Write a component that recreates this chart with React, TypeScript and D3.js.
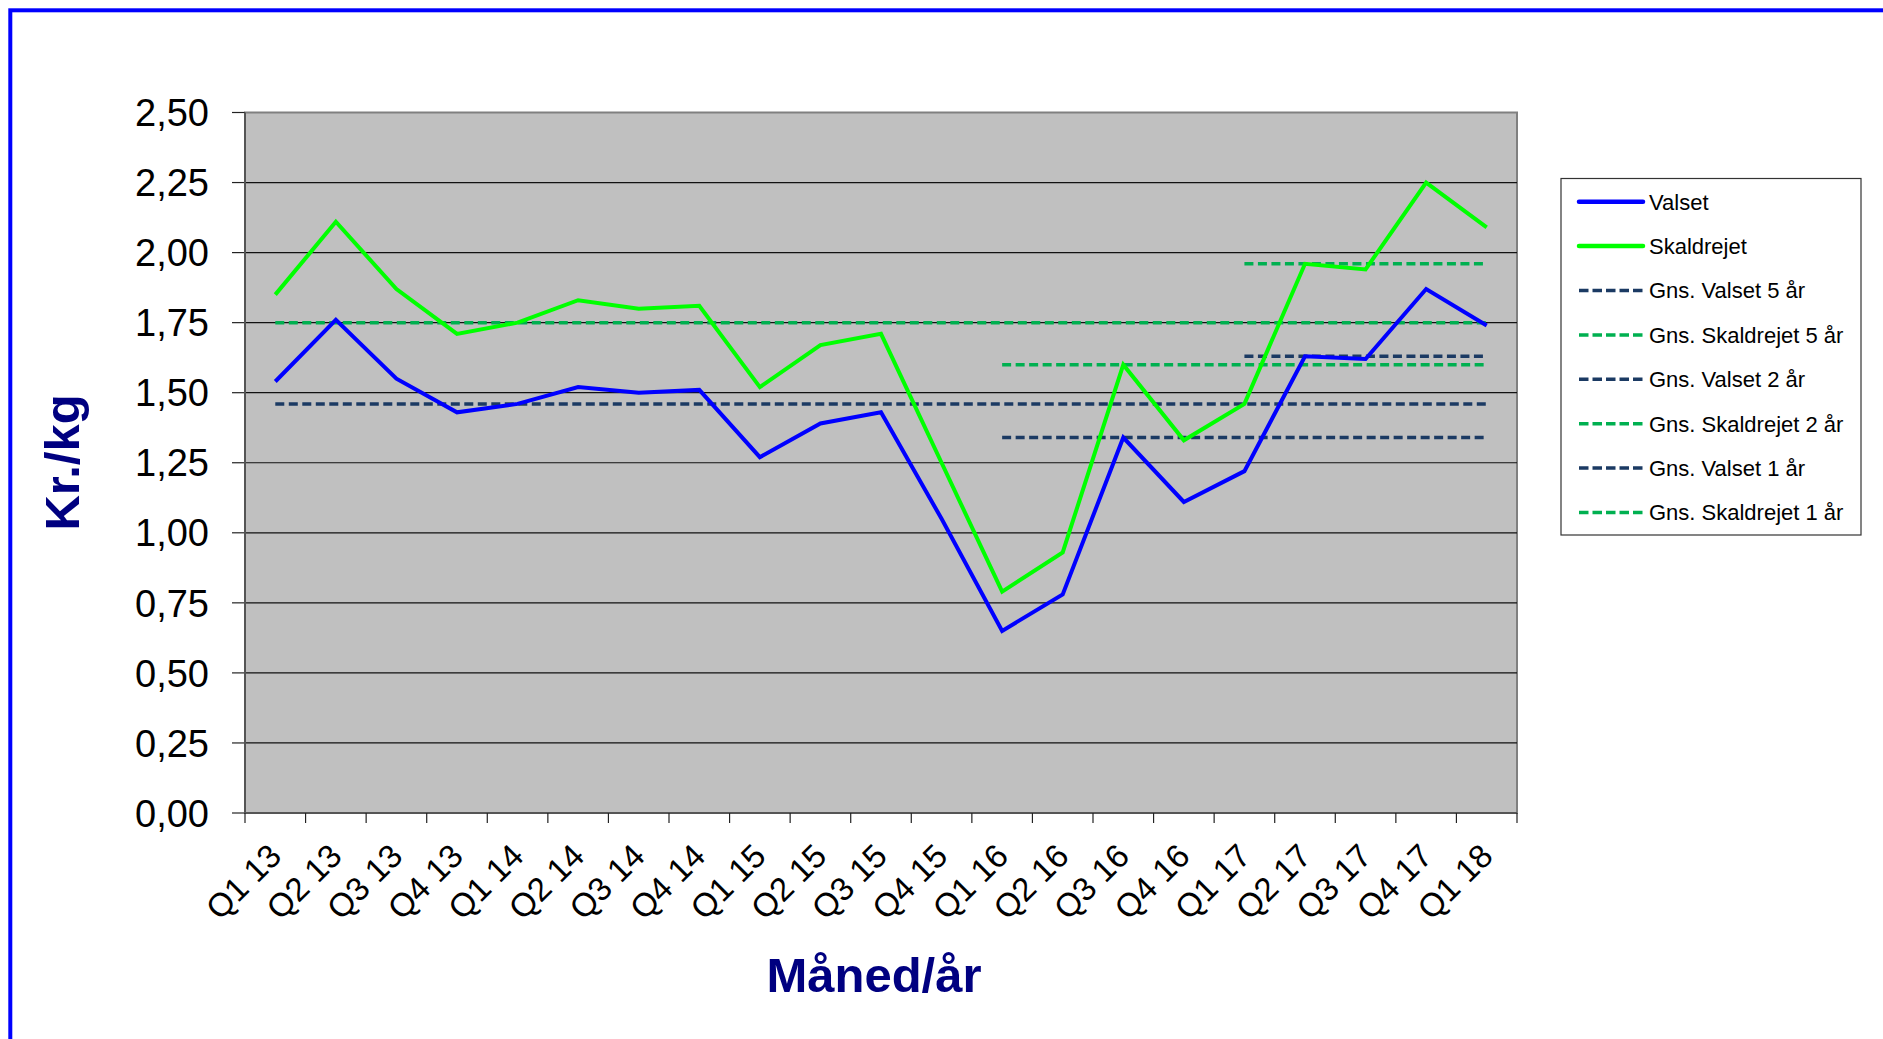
import React from 'react';
import * as d3 from 'd3';

const WIDTH = 1883;
const HEIGHT = 1039;
const PLOT = { left: 245, right: 1517, top: 112.5, bottom: 813 };
const FONT = '"Liberation Sans", Arial, sans-serif';

const quarters = [
  'Q1 13', 'Q2 13', 'Q3 13', 'Q4 13',
  'Q1 14', 'Q2 14', 'Q3 14', 'Q4 14',
  'Q1 15', 'Q2 15', 'Q3 15', 'Q4 15',
  'Q1 16', 'Q2 16', 'Q3 16', 'Q4 16',
  'Q1 17', 'Q2 17', 'Q3 17', 'Q4 17',
  'Q1 18',
];

const valset = [
  1.54, 1.76, 1.55, 1.43, 1.46, 1.52, 1.50, 1.51, 1.27, 1.39, 1.43,
  1.05, 0.65, 0.78, 1.34, 1.11, 1.22, 1.63, 1.62, 1.87, 1.74,
];
const skaldrejet = [
  1.85, 2.11, 1.87, 1.71, 1.75, 1.83, 1.80, 1.81, 1.52, 1.67, 1.71,
  1.25, 0.79, 0.93, 1.60, 1.33, 1.46, 1.96, 1.94, 2.25, 2.09,
];

// averages: name, level, first quarter (all run to the last quarter)
const avgNames = [
  'Gns. Valset 5 år', 'Gns. Skaldrejet 5 år',
  'Gns. Valset 2 år', 'Gns. Skaldrejet 2 år',
  'Gns. Valset 1 år', 'Gns. Skaldrejet 1 år',
];
const avgValues = [1.46, 1.75, 1.34, 1.60, 1.63, 1.96];
const avgFrom = ['Q1 13', 'Q1 13', 'Q1 16', 'Q1 16', 'Q1 17', 'Q1 17'];

const yTicks = [0, 0.25, 0.5, 0.75, 1, 1.25, 1.5, 1.75, 2, 2.25, 2.5];

const BLUE = '#0000FF';
const GREEN = '#00FF00';
const NAVY_DASH = '#1B3A63';
const GREEN_DASH = '#00B050';

const App = () => {
  const xBand = d3.scaleBand<string>().domain(quarters).range([PLOT.left, PLOT.right]);
  const xc = (q: string) => (xBand(q) ?? 0) + xBand.bandwidth() / 2;
  const y = d3.scaleLinear().domain([0, 2.5]).range([PLOT.bottom, PLOT.top]);

  const line = d3
    .line<[string, number]>()
    .x((d) => xc(d[0]))
    .y((d) => y(d[1]));

  const series = [
    { name: 'Valset', values: valset, color: BLUE },
    { name: 'Skaldrejet', values: skaldrejet, color: GREEN },
  ];
  const last = quarters[quarters.length - 1];
  const avgLines = avgNames.map((name, i) => ({
    name,
    color: i % 2 === 0 ? NAVY_DASH : GREEN_DASH,
    path: line([[avgFrom[i], avgValues[i]], [last, avgValues[i]]]),
  }));

  const legendItems = [
    ...series.map((s) => ({ name: s.name, color: s.color, dashed: false })),
    ...avgLines.map((a) => ({ name: a.name, color: a.color, dashed: true })),
  ];
  const tickXs = [...quarters.map((q) => xBand(q) ?? 0), PLOT.right];

  return (
    <div style={{ position: 'absolute', left: 0, top: 0 }}>
      <svg width={WIDTH} height={HEIGHT} style={{ display: 'block' }} fontFamily={FONT}>
        <rect x={0} y={0} width={WIDTH} height={HEIGHT} fill="#fff" />
        <rect x={10.3} y={10.3} width={WIDTH + 50} height={HEIGHT + 50} fill="none" stroke="#0000FF" strokeWidth={4} />

        {/* plot area */}
        <rect
          x={PLOT.left}
          y={PLOT.top}
          width={PLOT.right - PLOT.left}
          height={PLOT.bottom - PLOT.top}
          fill="#C0C0C0"
          stroke="#808080"
          strokeWidth={2}
        />
        {yTicks.map((t) => (
          <g key={t}>
            {t > 0 && t < 2.5 && (
              <line x1={PLOT.left} x2={PLOT.right} y1={y(t)} y2={y(t)} stroke="#111" strokeWidth={1.2} />
            )}
            <line x1={PLOT.left - 13} x2={PLOT.left} y1={y(t)} y2={y(t)} stroke="#222" strokeWidth={1.2} />
            <text x={209} y={y(t)} dy="0.36em" textAnchor="end" fontSize={38} fill="#000">
              {d3.format('.2f')(t).replace('.', ',')}
            </text>
          </g>
        ))}
        <line x1={PLOT.left} x2={PLOT.left} y1={PLOT.top} y2={PLOT.bottom} stroke="#555" strokeWidth={2} />
        <line x1={PLOT.left} x2={PLOT.right} y1={PLOT.bottom} y2={PLOT.bottom} stroke="#555" strokeWidth={2} />
        {tickXs.map((tx, i) => (
          <line key={i} x1={tx} x2={tx} y1={PLOT.bottom} y2={PLOT.bottom + 10} stroke="#222" strokeWidth={1.2} />
        ))}
        {quarters.map((q) => (
          <text
            key={q}
            transform={`translate(${xc(q) + 8},858) rotate(-45)`}
            textAnchor="end"
            fontSize={33}
            fill="#000"
          >
            {q}
          </text>
        ))}

        {/* average lines */}
        {avgLines.map((a) => (
          <path key={a.name} d={a.path ?? ''} fill="none" stroke={a.color} strokeWidth={3.5} strokeDasharray="9 4.5" />
        ))}

        {/* main series */}
        {series.map((s) => (
          <path
            key={s.name}
            d={line(quarters.map((q, i) => [q, s.values[i]])) ?? ''}
            fill="none"
            stroke={s.color}
            strokeWidth={4}
            strokeLinejoin="miter"
          />
        ))}

        {/* axis titles */}
        <text
          transform={`translate(79,462.5) rotate(-90)`}
          textAnchor="middle"
          fontSize={49}
          fontWeight="bold"
          fill="#000080"
        >
          Kr./kg
        </text>
        <text x={874} y={992} textAnchor="middle" fontSize={49} fontWeight="bold" fill="#000080">
          Måned/år
        </text>

        {/* legend */}
        <rect x={1561} y={178.5} width={300} height={356.5} fill="#fff" stroke="#333" strokeWidth={1.2} />
        {legendItems.map((item, i) => {
          const ly = 201.7 + i * 44.4;
          return (
            <g key={item.name}>
              <line
                x1={1579}
                x2={1643}
                y1={ly}
                y2={ly}
                stroke={item.color}
                strokeWidth={item.dashed ? 3.5 : 4.5}
                strokeDasharray={item.dashed ? '9.5 4' : undefined}
                strokeLinecap={item.dashed ? 'butt' : 'round'}
              />
              <text x={1649} y={ly} dy="0.36em" fontSize={22} fill="#000">
                {item.name}
              </text>
            </g>
          );
        })}
      </svg>
    </div>
  );
};

export default App;
